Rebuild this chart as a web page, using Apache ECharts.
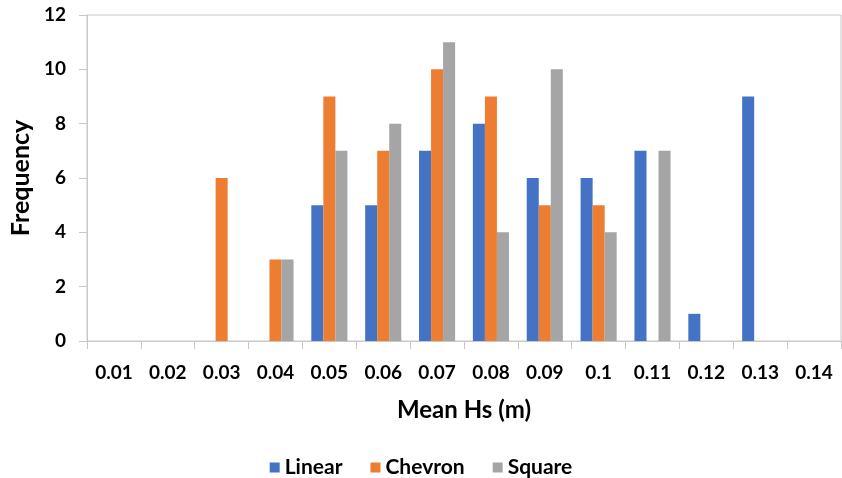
<!DOCTYPE html>
<html><head><meta charset="utf-8">
<script src="https://cdn.jsdelivr.net/npm/echarts@6/dist/echarts.min.js"></script>
<style>html,body{margin:0;padding:0;background:#fff}#c{width:842px;height:478px}</style>
</head><body><div id="c"></div>
<script>
const categories = ['0.01','0.02','0.03','0.04','0.05','0.06','0.07','0.08','0.09','0.1','0.11','0.12','0.13','0.14'];
const linear  = [0,0,0,0,5,5,7,8,6,6,7,1,9,0];
const chevron = [0,0,6,3,9,7,10,9,5,5,0,0,0,0];
const square  = [0,0,0,3,7,8,11,4,10,4,7,0,0,0];
const yTicks = {min:0, max:12, interval:2};

const font = 'Lato, "Open Sans", sans-serif';
const chart = echarts.init(document.getElementById('c'));
chart.setOption({
  animation:false,
  grid:{left:87,right:1,top:15,bottom:137,show:true,borderColor:'#c8c8c8',borderWidth:1},
  legend:{top:452,left:'center',itemWidth:10,itemHeight:10,itemGap:28,icon:'rect',
    textStyle:{fontFamily:font,fontWeight:'bold',fontSize:21,color:'#000'},
    data:['Linear','Chevron','Square']},
  xAxis:{type:'category',data:categories,
    name:'Mean Hs (m)',nameLocation:'middle',nameGap:57,
    nameTextStyle:{fontFamily:font,fontWeight:'bold',fontSize:24,color:'#000'},
    axisLine:{lineStyle:{color:'#c8c8c8'}},
    axisTick:{show:true,length:8,lineStyle:{color:'#c8c8c8'}},
    axisLabel:{margin:22,fontFamily:font,fontWeight:'bold',fontSize:19,color:'#000'}},
  yAxis:{type:'value',min:yTicks.min,max:yTicks.max,interval:yTicks.interval,
    name:'Frequency',nameLocation:'middle',nameGap:50,
    nameTextStyle:{fontFamily:font,fontWeight:'bold',fontSize:25,color:'#000'},
    splitLine:{show:false},
    axisLine:{show:true,lineStyle:{color:'#c8c8c8'}},
    axisTick:{show:true,length:8,lineStyle:{color:'#c8c8c8'}},
    axisLabel:{margin:21,fontFamily:font,fontWeight:'bold',fontSize:19,color:'#000'}},
  series:[
    {name:'Linear',type:'bar',data:linear,itemStyle:{color:'#4472C4'},barGap:'0%',barCategoryGap:'33%'},
    {name:'Chevron',type:'bar',data:chevron,itemStyle:{color:'#ED7D31'}},
    {name:'Square',type:'bar',data:square,itemStyle:{color:'#A5A5A5'}}
  ]
});
</script></body></html>
